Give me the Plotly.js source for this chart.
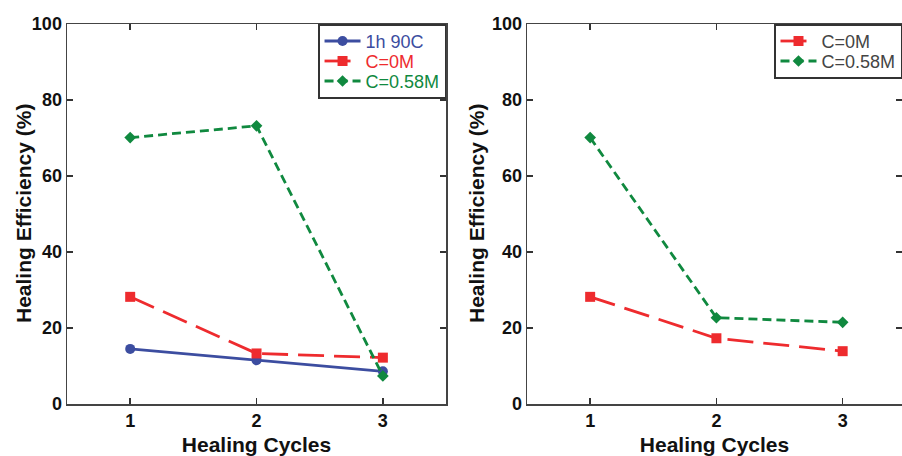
<!DOCTYPE html>
<html><head><meta charset="utf-8">
<script src="https://cdn.plot.ly/plotly-3.0.1.min.js"></script>
<style>html,body{margin:0;padding:0;background:#fff}#c{width:902px;height:456px}</style>
</head><body><div id="c"></div>
<script>
var cycles = [1, 2, 3];
var leftBlue = [14.5, 11.5, 8.6];
var leftRed = [28.2, 13.3, 12.2];
var leftGreen = [70.1, 73.2, 7.4];
var rightRed = [28.2, 17.3, 13.9];
var rightGreen = [70.1, 22.7, 21.5];
var names = ['1h 90C', 'C=0M', 'C=0.58M'];
var yTicks = [0, 20, 40, 60, 80, 100];
var xTitle = 'Healing Cycles';
var yTitle = 'Healing Efficiency (%)';

var blue = '#3c4da0', red = '#ee2b2e', green = '#10893f';
function tr(x, y, name, color, dash, sym, size, xa, ya, legend) {
  return {x: x, y: y, name: name, type: 'scatter', mode: 'lines+markers',
    line: {color: color, width: 2.8, dash: dash},
    marker: {color: color, symbol: sym, size: size},
    xaxis: xa, yaxis: ya, legend: legend};
}
var data = [
  tr(cycles, leftBlue, names[0], blue, 'solid', 'circle', 10, 'x', 'y', 'legend'),
  tr(cycles, leftRed, names[1], red, '26px,10px', 'square', 10, 'x', 'y', 'legend'),
  tr(cycles, leftGreen, names[2], green, '9px,5px', 'diamond', 9, 'x', 'y', 'legend'),
  tr(cycles, rightRed, names[1], red, '26px,10px', 'square', 10, 'x2', 'y2', 'legend2'),
  tr(cycles, rightGreen, names[2], green, '9px,5px', 'diamond', 9, 'x2', 'y2', 'legend2')
];
var fam = 'Liberation Sans, Arial, sans-serif';
var tickFont = {family: fam, size: 18, color: '#111', weight: 'bold'};
var titleFont = {family: fam, size: 21, color: '#111', weight: 'bold'};
function xax(domain, range) {
  return {domain: domain, range: range, tickvals: cycles, ticktext: cycles.map(String),
    ticks: 'inside', ticklen: 6, tickwidth: 1.5, tickcolor: '#333', mirror: 'allticks',
    showline: true, linecolor: '#444', linewidth: 1.5, showgrid: false, zeroline: false,
    tickfont: tickFont, title: {text: xTitle, font: titleFont, standoff: 7}};
}
function yax(anchor) {
  return {domain: [0, 1], range: [0, 100], tickvals: yTicks, anchor: anchor,
    ticks: 'inside', ticklen: 6, tickwidth: 1.5, tickcolor: '#333', mirror: 'allticks',
    showline: true, linecolor: '#444', linewidth: 1.5, showgrid: false, zeroline: false,
    tickfont: tickFont};
}
var legFont = {family: fam, size: 18};
var layout = {
  width: 902, height: 456, margin: {l: 0, r: 0, t: 24, b: 52},
  paper_bgcolor: '#fff', plot_bgcolor: '#fff', showlegend: true,
  xaxis: xax([0.0743, 0.4945], [0.5, 3.5]),
  yaxis: yax('x'),
  xaxis2: xax([0.5843, 1], [0.5, 3.47]),
  yaxis2: yax('x2'),
  legend: {x: 0.4945, y: 1, xanchor: 'right', yanchor: 'top', bgcolor: '#fff',
    bordercolor: '#333', borderwidth: 1.5, font: legFont, tracegroupgap: 0, itemwidth: 36},
  legend2: {x: 1, y: 1, xanchor: 'right', yanchor: 'top', bgcolor: '#fff',
    bordercolor: '#333', borderwidth: 1.5, font: legFont, tracegroupgap: 0, itemwidth: 36},
  annotations: [
    {text: yTitle, xref: 'paper', yref: 'paper', x: 23 / 902, y: 0.5, textangle: -90,
     showarrow: false, font: titleFont, xanchor: 'center', yanchor: 'middle'},
    {text: yTitle, xref: 'paper', yref: 'paper', x: 476 / 902, y: 0.5, textangle: -90,
     showarrow: false, font: titleFont, xanchor: 'center', yanchor: 'middle'}
  ]
};
Plotly.newPlot('c', data, layout, {displayModeBar: false, staticPlot: true}).then(function(gd){
  var cols = {legend: [blue, red, green], legend2: [red, green]};
  Object.keys(cols).forEach(function(lg){
    var g = gd.querySelector('g.' + lg);
    if (!g) return;
    var traces = g.querySelectorAll('.traces');
    traces.forEach(function(t, i){
      var m = /translate\(\s*([-\d.e]+)[ ,]+([-\d.e]+)\s*\)/.exec(t.getAttribute('transform') || '');
      if (m) t.setAttribute('transform', 'translate(' + m[1] + ',' + (17 + 20 * i) + ')');
      var txt = t.querySelector('.legendtext');
      if (txt) txt.style.fill = cols[lg][i];
    });
    var h = 17 + 20 * (traces.length - 1) + 16;
    var bg = g.querySelector('rect.bg');
    if (bg) bg.setAttribute('height', h);
    var sb = g.querySelector('.scrollbox');
    if (sb) sb.removeAttribute('clip-path');
  });
});
</script></body></html>
